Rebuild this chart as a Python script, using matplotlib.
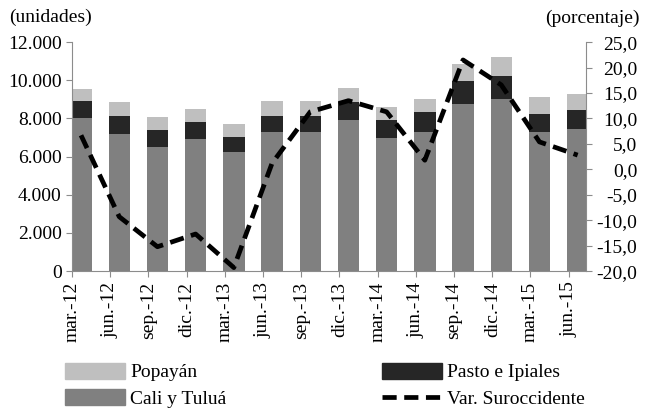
import numpy as np
import matplotlib.pyplot as plt
from matplotlib.patches import Patch
from matplotlib.lines import Line2D

# data
periodos = ["mar.-12", "jun.-12", "sep.-12", "dic.-12", "mar.-13", "jun.-13", "sep.-13",
            "dic.-13", "mar.-14", "jun.-14", "sep.-14", "dic.-14", "mar.-15", "jun.-15"]
cali_tulua = [8000, 7210, 6500, 6940, 6260, 7310, 7310, 7910, 6960, 7310, 8770, 9030, 7310, 7470]
pasto_ipiales = [930, 930, 880, 880, 770, 830, 830, 930, 950, 1040, 1200, 1200, 930, 950]
popayan = [620, 720, 690, 670, 690, 790, 790, 770, 690, 690, 880, 970, 880, 880]
var_suroccidente = [6.7, -9.3, -15.2, -12.7, -19.3, 1.2, 11.3, 13.5, 11.3, 1.8, 21.5, 16.6, 5.4, 2.8]

plt.rcParams['font.family'] = ['Liberation Serif', 'DejaVu Serif']
plt.rcParams['font.size'] = 14

c_light = "#BFBFBF"
c_dark = "#262626"
c_mid = "#808080"
c_axis = "#8C8C8C"

fig = plt.figure(figsize=(6.49, 4.09), dpi=100)
ax = fig.add_axes([0.111, 0.337, 0.792, 0.560])

x = np.arange(len(periodos))
w = 0.56
base2 = np.array(cali_tulua)
base3 = base2 + np.array(pasto_ipiales)
ax.bar(x, cali_tulua, w, color=c_mid, zorder=2)
ax.bar(x, pasto_ipiales, w, bottom=base2, color=c_dark, zorder=2)
ax.bar(x, popayan, w, bottom=base3, color=c_light, zorder=2)

ax.set_xlim(-0.235, 13.22)
ax.set_ylim(0, 12000)
ax.set_yticks(np.arange(0, 12001, 2000))
ax.set_yticklabels(["0" if v == 0 else f"{v // 1000}.{v % 1000:03d}" for v in range(0, 12001, 2000)])
ax.set_xticks(x - 0.235)
ax.set_xticklabels(periodos, rotation=90)

for s in ["top", "right"]:
    ax.spines[s].set_visible(False)
for s in ["left", "bottom"]:
    ax.spines[s].set_color(c_axis)
ax.tick_params(axis="both", colors=c_axis, labelcolor="black", length=4)

ax2 = ax.twinx()
ax2.plot(x, var_suroccidente, color="black", lw=3.4, ls=(0, (3, 1.6)), zorder=3)
ax2.set_ylim(-20, 25)
ticks2 = np.arange(-20, 26, 5)
ax2.set_yticks(ticks2)
ax2.set_yticklabels([f"{t:.1f}".replace(".", ",") for t in ticks2])
for s in ["top", "left", "bottom"]:
    ax2.spines[s].set_visible(False)
ax2.spines["right"].set_color(c_axis)
ax2.tick_params(axis="y", colors=c_axis, labelcolor="black", length=4, pad=33)
for lab in ax2.get_yticklabels():
    lab.set_horizontalalignment("right")

fig.text(0.014, 0.957, "(unidades)", fontsize=14, ha="left", va="center")
fig.text(0.986, 0.955, "(porcentaje)", fontsize=14, ha="right", va="center")

h_left = [Patch(color=c_light), Patch(color=c_mid)]
h_right = [Patch(color=c_dark),
           Line2D([0], [0], color="black", lw=3.4, ls=(0, (3, 1.6)))]
kw = dict(loc="upper left", frameon=False, handlelength=3.1, handleheight=0.88,
          handletextpad=0.27, labelspacing=0.4, borderaxespad=0, borderpad=0,
          fontsize=14)
fig.legend(h_left, ["Popayán", "Cali y Tuluá"], bbox_to_anchor=(0.1, 0.113), **kw)
fig.legend(h_right, ["Pasto e Ipiales", "Var. Suroccidente"], bbox_to_anchor=(0.588, 0.113), **kw)

fig.savefig("out.png", dpi=100)
